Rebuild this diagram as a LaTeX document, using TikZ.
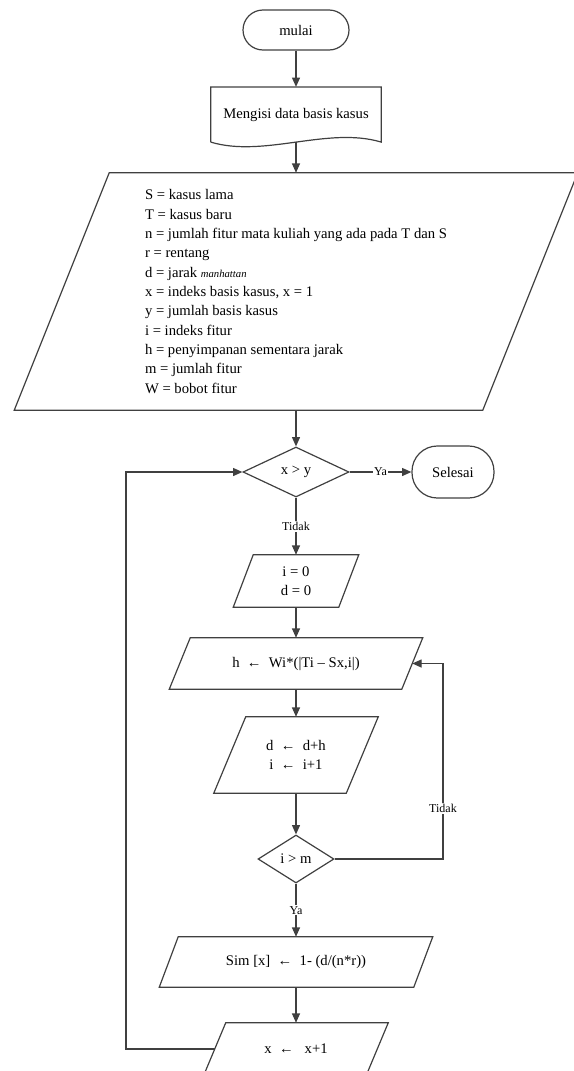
\documentclass[tikz,border=0pt]{standalone}
\usepackage{fontspec}
\setmainfont{Liberation Serif}
\usetikzlibrary{shapes.geometric,arrows.meta}

\begin{document}
\begin{tikzpicture}[x=0.75pt, y=-0.75pt,
  terminal/.style={rectangle, draw=black!75, line width=0.9pt, font=\fontsize{11}{13}\selectfont},
  decision/.style={diamond, aspect=2, draw=black!75, line width=0.9pt, inner sep=0pt, font=\fontsize{11}{13}\selectfont},
  iobox/.style={rectangle, inner sep=1pt, font=\fontsize{11}{14.5}\selectfont, align=center},
  shapeline/.style={draw=black!75, line width=0.9pt, line join=miter},
  arr/.style={draw=black!75, line width=0.9pt, -{Triangle[length=7pt, width=6pt]}},
  lbl/.style={fill=white, inner sep=1pt, font=\fontsize{9}{10}\selectfont}]
\useasboundingbox (0,0) rectangle (574,1071);
%\draw[help lines] (0,0) grid (574,1071);
\node[terminal, rounded corners=15pt, minimum width=79.5pt, minimum height=30pt] at (296,30) (mulai) {mulai};
\node[iobox, minimum width=127.5pt, minimum height=41pt] at (296,114.5) (doc) {Mengisi data basis kasus};
\node[iobox, align=left, inner sep=0pt, minimum width=422.25pt, minimum height=177.75pt] at (296,291.5) (vars) {S = kasus lama\\T = kasus baru\\n = jumlah fitur mata kuliah yang ada pada T dan S\\r = rentang\\d = jarak {\fontsize{8}{9}\selectfont\itshape manhattan}\\x = indeks basis kasus, x = 1\\y = jumlah basis kasus\\i = indeks fitur\\h = penyimpanan sementara jarak\\m = jumlah fitur\\W = bobot fitur};
\node[decision, minimum width=79.5pt, minimum height=37.5pt] at (296,472) (cek1) {x > y};
\node[terminal, rounded corners=19pt, minimum width=61.5pt, minimum height=39pt] at (453,472) (selesai) {Selesai};
\node[iobox, minimum width=93.75pt, minimum height=39pt] at (296,581) (init) {i = 0\\d = 0};
\node[iobox, minimum width=189.75pt, minimum height=38.25pt] at (296,663.5) (hpar) {h \ ← \ Wi*(|Ti – Sx,i|)};
\node[iobox, minimum width=123pt, minimum height=57pt] at (296,755) (dpar) {d \ ← \ d+h\\i \ ← \ i+1};
\node[decision, minimum width=57pt, minimum height=36pt] at (296,859) (cek2) {i > m};
\node[iobox, minimum width=204.75pt, minimum height=37.5pt] at (296,962) (sim) {Sim [x] \ ← \ 1- (d/(n*r))};
\node[iobox, minimum width=138pt, minimum height=39pt] at (296,1049) (xinc) {x \ ← \ \ x+1};
% outlines
\draw[shapeline] (doc.south west) -- (doc.north west) -- (doc.north east) -- (doc.south east) .. controls ([xshift=-40pt,yshift=12pt]doc.south east) and ([xshift=40pt,yshift=-12pt]doc.south west) .. (doc.south west);
\foreach \n/\s in {vars/71.25pt, init/15pt, hpar/15.75pt, dpar/24pt, sim/14.25pt, xinc/16.5pt}
  \draw[shapeline] ([xshift=\s]\n.north west) -- (\n.north east) -- ([xshift=-\s]\n.south east) -- (\n.south west) -- cycle;
\coordinate (hin) at ([xshift=-7.875pt]hpar.east);
\coordinate (xout) at ([xshift=8.25pt]xinc.west);
\coordinate (rcol) at (443,0);
\coordinate (lcol) at (126,0);
% connectors
\draw[arr] (mulai) -- (doc);
\draw[arr] (doc.south) -- (vars.north);
\draw[arr] (vars) -- (cek1);
\draw[arr] (cek1) -- node[lbl] {Ya} (selesai);
\draw[arr] (cek1) -- node[lbl] {Tidak} (init);
\draw[arr] (init) -- (hpar);
\draw[arr] (hpar) -- (dpar);
\draw[arr] (dpar) -- (cek2);
\draw[arr] (cek2.east) -| node[lbl, pos=0.63] {Tidak} (rcol |- hin) -- (hin);
\draw[arr] (cek2) -- node[lbl] {Ya} (sim);
\draw[arr] (sim) -- (xinc);
\draw[arr] (xout) -| (lcol |- cek1.west) -- (cek1.west);
\end{tikzpicture}
\end{document}
